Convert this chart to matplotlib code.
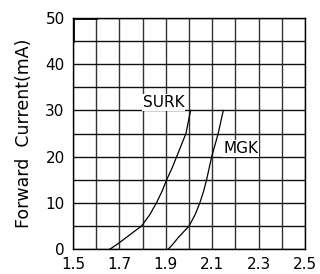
import matplotlib
matplotlib.use("Agg")
import matplotlib.pyplot as plt

surk_v = [1.66, 1.69, 1.73, 1.796, 1.832, 1.86, 1.884, 1.904, 1.927, 1.947, 1.967, 1.987, 2.007]
surk_i = [0, 1, 2.5, 5, 7.5, 10, 12.5, 15, 17.5, 20, 22.5, 25, 30]
mgk_v = [1.911, 1.93, 1.954, 2.001, 2.027, 2.047, 2.063, 2.076, 2.087, 2.098, 2.112, 2.126, 2.148]
mgk_i = [0, 1, 2.5, 5, 7.5, 10, 12.5, 15, 17.5, 20, 22.5, 25, 30]
xticks = [1.5, 1.7, 1.9, 2.1, 2.3, 2.5]
xtick_labels = ["1.5", "1.7", "1.9", "2.1", "2.3", "2.5"]
yticks = [0, 10, 20, 30, 40, 50]
ylabel = "Forward  Current(mA)"

fig = plt.figure(figsize=(3.2, 2.74), dpi=100)
ax = fig.add_axes([0.228, 0.0912, 0.725, 0.843])
ax.set_xlim(1.5, 2.5)
ax.set_ylim(0, 50)

for i in range(11):
    ax.axvline(1.5 + i * 0.1, color="#333333", lw=1.0, zorder=1)
    ax.axhline(i * 5, color="#111111", lw=1.0, zorder=1)
ax.plot([1.5, 1.5], [45, 50], color="black", lw=2.0, zorder=3)
ax.plot([1.5, 1.6], [50, 50], color="black", lw=2.0, zorder=3)

ax.plot(surk_v, surk_i, color="black", lw=0.9, zorder=4)
ax.plot(mgk_v, mgk_i, color="black", lw=0.9, zorder=4)
ax.text(1.80, 30.7, "SURK", fontsize=11, ha="left", va="baseline", zorder=5,
        bbox=dict(facecolor="white", edgecolor="none", pad=0.5))
ax.text(2.147, 20.8, "MGK", fontsize=11, ha="left", va="baseline", zorder=5,
        bbox=dict(facecolor="white", edgecolor="none", pad=0.5))

ax.set_xticks(xticks)
ax.set_xticklabels(xtick_labels)
ax.set_yticks(yticks)
ax.tick_params(length=0, labelsize=11, pad=6)
for s in ax.spines.values():
    s.set_color("black")
    s.set_linewidth(1.0)
ax.set_ylabel(ylabel, fontsize=12.5, labelpad=9)

fig.savefig("out.png", dpi=100)
